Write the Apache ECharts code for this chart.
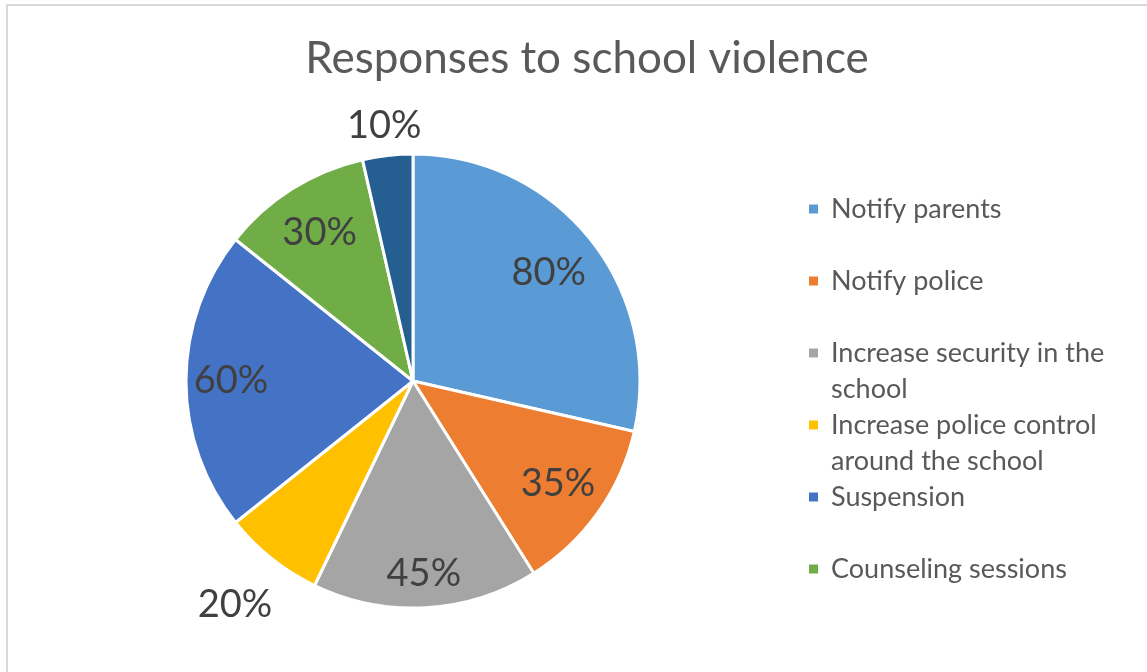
<!DOCTYPE html>
<html>
<head>
<meta charset="utf-8">
<script src="https://cdn.jsdelivr.net/npm/echarts@6/dist/echarts.min.js"></script>
<style>
  html, body { margin: 0; padding: 0; background: #ffffff; }
  #chart { width: 1147px; height: 672px; }
</style>
</head>
<body>
<div id="chart"></div>
<script>
// Responses and their shares (labels show the value with a % sign)
const categories = [
  'Notify parents',
  'Notify police',
  'Increase security in the school',
  'Increase police control around the school',
  'Suspension',
  'Counseling sessions',
  'Other'
];
const values = [80, 35, 45, 20, 60, 30, 10];
const colors = ['#5B9BD5', '#ED7D31', '#A5A5A5', '#FFC000', '#4472C4', '#70AD47', '#255E91'];
// Legend shows the first six entries, wrapped onto two lines
const legendNames = categories.slice(0, 6);
const legendText = [
  'Notify parents',
  'Notify police',
  'Increase security in the\nschool',
  'Increase police control\naround the school',
  'Suspension',
  'Counseling sessions'
];
// Distance of each label from the centre, as a fraction of the pie radius
const labelRadius = [0.752, 0.77, 0.838, 1.245, 0.789, 0.76, 1.12];

const FONT = 'Lato, "Open Sans", sans-serif';
const CX = 413, CY = 381, R = 227;

// One transparent ring per label: its mid-radius is where the label is drawn
function labelSeries(idx) {
  const k = labelRadius[idx];
  const radius = k < 1 ? [(2 * k - 1) * R, R] : [R, (2 * k - 1) * R];
  return {
    type: 'pie',
    silent: true,
    startAngle: 90,
    clockwise: true,
    center: [CX, CY],
    radius: radius,
    avoidLabelOverlap: false,
    itemStyle: { color: 'rgba(0,0,0,0)', borderWidth: 0 },
    emphasis: { disabled: true },
    labelLine: { show: false },
    label: {
      position: 'inside',
      formatter: '{c}%',
      fontFamily: FONT,
      fontSize: 38,
      color: '#404040'
    },
    data: categories.map((name, i) => ({
      name,
      value: values[i],
      label: { show: i === idx }
    })),
    z: 5
  };
}

const chart = echarts.init(document.getElementById('chart'), null, { renderer: 'canvas' });
chart.setOption({
  animation: false,
  backgroundColor: '#ffffff',
  color: colors,
  title: {
    text: 'Responses to school violence',
    left: 582,
    textAlign: 'center',
    top: 32,
    textStyle: { fontFamily: FONT, fontSize: 44, fontWeight: 'normal', color: '#595959' }
  },
  legend: {
    orient: 'vertical',
    left: 802,
    top: 186,
    data: legendNames,
    // square marker sitting level with the first text line
    icon: 'path://M0,0H11V11H0Z M0,47L11,47',
    itemWidth: 11,
    itemHeight: 47,
    itemGap: 0,
    selectedMode: false,
    formatter: function (name) {
      const t = legendText[legendNames.indexOf(name)];
      return t.indexOf('\n') >= 0 ? t : t + '\n\u00a0';
    },
    textStyle: {
      fontFamily: FONT,
      fontSize: 27,
      lineHeight: 36,
      color: '#595959',
      padding: [0, 0, 0, 7]
    }
  },
  graphic: [{
    type: 'rect',
    shape: { x: 7, y: 5, width: 1200, height: 720 },
    style: { fill: null, stroke: '#D9D9D9', lineWidth: 2 },
    silent: true
  }],
  series: [
    {
      type: 'pie',
      startAngle: 90,
      clockwise: true,
      center: [CX, CY],
      radius: R,
      avoidLabelOverlap: false,
      itemStyle: { borderColor: '#ffffff', borderWidth: 3 },
      emphasis: { disabled: true },
      label: { show: false },
      labelLine: { show: false },
      data: categories.map((name, i) => ({ name, value: values[i] })),
      z: 2
    }
  ].concat(values.map((v, i) => labelSeries(i)))
});
</script>
</body>
</html>
